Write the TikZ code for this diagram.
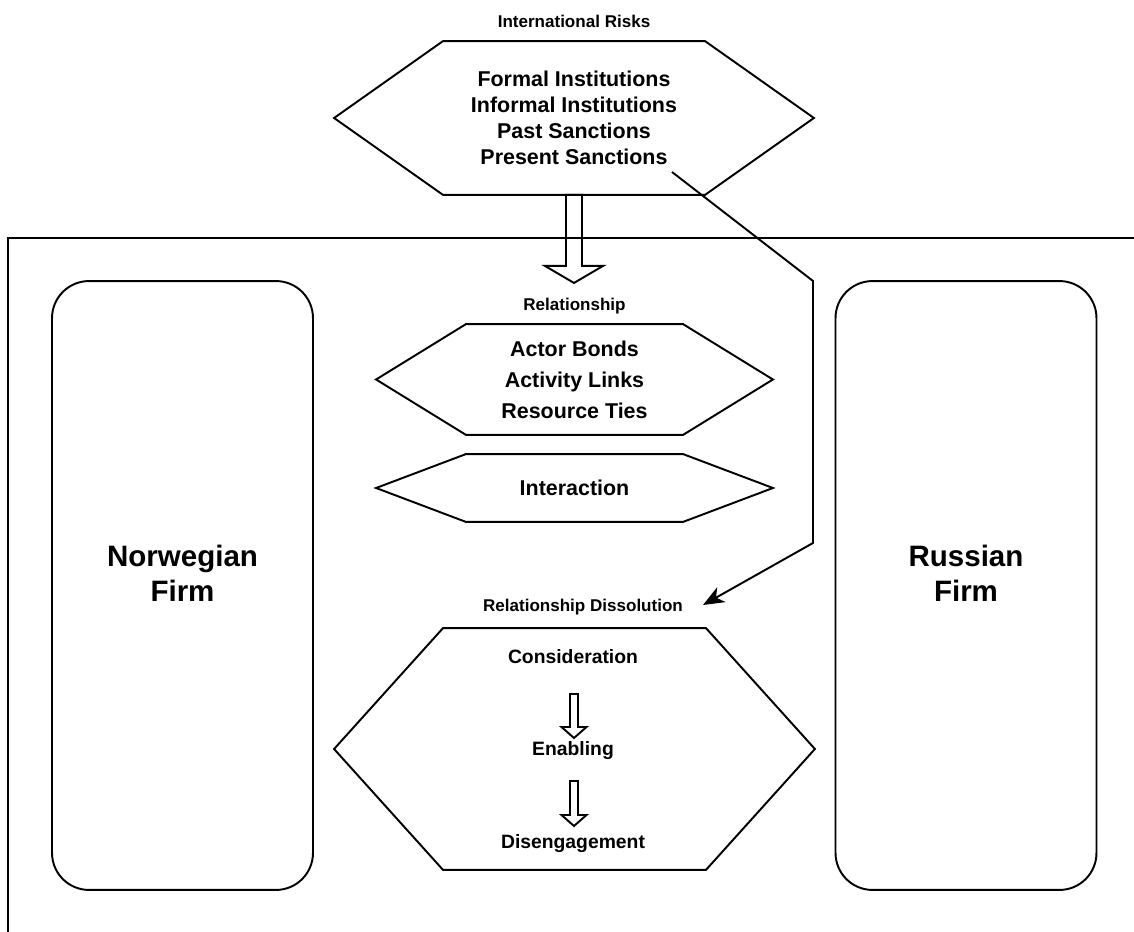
\documentclass[tikz,border=0pt]{standalone}
\usepackage{fontspec}
\setmainfont{Liberation Sans}
\usetikzlibrary{arrows.meta, positioning}
\tikzset{
  hexbody/.style={minimum width=#1, inner sep=0pt, align=center},
  firm/.style={draw, rounded corners=0.74cm, minimum width=5.22cm, minimum height=12.18cm},
  firmtext/.style={align=center, font=\fontsize{16.8}{19.8}\selectfont\bfseries},
  caption/.style={inner sep=1pt, font=\fontsize{9.7}{11}\selectfont\bfseries},
  step text/.style={inner sep=1pt, font=\fontsize{11}{13}\selectfont\bfseries}
}
% hexagon round a node body, #2 = how far the tips stick out
\newcommand{\hexpath}[2]{\draw (#1.north west) -- (#1.north east) -- ([xshift=#2]#1.east) -- (#1.south east) -- (#1.south west) -- ([xshift=-#2]#1.west) -- cycle;}
% hollow block arrow: start, half shaft, half head, head length, total length
\newcommand{\fatarrow}[5]{\draw (#1) ++(-#2,0) -- ++(0,{#5-#4}) -- ++({#2-#3},0) -- ++(#3,#4) -- ++(#3,-#4) -- ++({#2-#3},0) -- ++(0,{#4-#5}) -- cycle;}

\begin{document}
\begin{tikzpicture}[x=0.02cm, y=-0.02cm, line width=1.1pt, >={Stealth[length=4.2mm, width=3.4mm, inset=1.2mm]}]
\useasboundingbox (0,0) rectangle (1134,932);
\draw (1134,238) -- (8,238) -- (8,932);

\node[hexbody=5.2cm, minimum height=3.04cm, font=\fontsize{12.2}{14.7}\selectfont\bfseries] (risks) at (574,118) {Formal Institutions\\Informal Institutions\\Past Sanctions\\Present Sanctions};
\hexpath{risks}{2.18cm}
\node[caption] (riskcap) at (574,21) {International Risks};

\node[firm] (norway) at (182.5,585.5) {};
\node[firmtext] (norwaytext) at ([yshift=0.24cm]norway.center) {Norwegian\\Firm};
\node[firm] (russia) at (966,585.5) {};
\node[firmtext] (russiatext) at ([yshift=0.24cm]russia.center) {Russian\\Firm};

\fatarrow{risks.south}{8}{29}{17}{88}

\node[caption] (relcap) at (574.5,306) {Relationship};
\node[hexbody=4.3cm, minimum height=2.18cm, font=\fontsize{12.2}{17.6}\selectfont\bfseries] (rel) at (574.5,379.5) {Actor Bonds\\Activity Links\\Resource Ties};
\hexpath{rel}{1.8cm}
\node[hexbody=4.3cm, minimum height=1.32cm, font=\fontsize{12.2}{14.7}\selectfont\bfseries] (inter) at (574.5,488) {Interaction};
\hexpath{inter}{1.8cm}

\node[caption] (disscap) at (583,607) {Relationship Dissolution};
\node[hexbody=5.22cm, minimum height=4.8cm] (diss) at (574.5,749) {};
\hexpath{diss}{2.18cm}
\node[step text] (consider) at (573,657) {Consideration};
\node[step text] (enable) at (573,751) {Enabling};
\node[step text] (disengage) at (573,844) {Disengagement};
\fatarrow{574,694}{4}{12.5}{11}{44}
\fatarrow{574,781}{4}{12.5}{11}{45}

% sanctions line down to dissolution
\coordinate (sanctend) at (672,172);
\coordinate (dissin) at (703,605);
\draw[->] (sanctend) -- (813,281) -- (813,543) -- (dissin);
\end{tikzpicture}
\end{document}
